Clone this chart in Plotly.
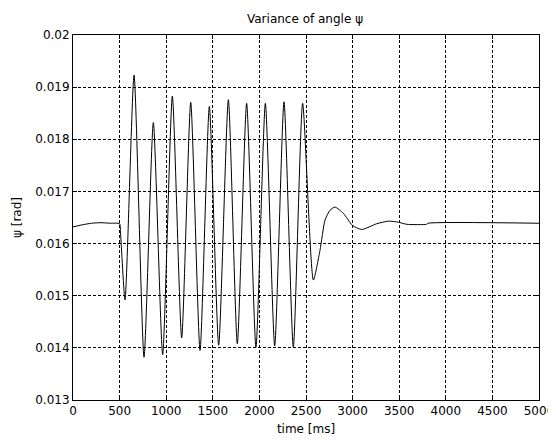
import plotly.graph_objects as go

# time [ms] and psi [rad]
time_ms = [0, 100, 200, 300, 400, 500, 510,
           558, 655, 762, 862, 962, 1066, 1166, 1263, 1363, 1463, 1563, 1667,
           1763, 1863, 1963, 2064, 2164, 2264, 2364, 2464,
           2579, 2650, 2704, 2758, 2811, 2901, 2998, 3097, 3258, 3384, 3491,
           3580, 3795, 3810, 5000]
psi_rad = [0.01632, 0.01636, 0.01639, 0.01640, 0.01639, 0.01638, 0.01620,
           0.01492, 0.01923, 0.01382, 0.01832, 0.01387, 0.01883, 0.01419, 0.01871,
           0.01395, 0.01863, 0.01405, 0.01876, 0.01408, 0.01869, 0.01401, 0.01869,
           0.01404, 0.01872, 0.01401, 0.01869,
           0.01530, 0.01587, 0.01645, 0.01664, 0.01670, 0.01658, 0.01635, 0.01627,
           0.01638, 0.01643, 0.01641, 0.01637, 0.01637, 0.01639, 0.01639]

x_ticks = [0, 500, 1000, 1500, 2000, 2500, 3000, 3500, 4000, 4500, 5000]
y_ticks = [0.013, 0.014, 0.015, 0.016, 0.017, 0.018, 0.019, 0.02]
y_tick_labels = ["0.013", "0.014", "0.015", "0.016", "0.017", "0.018", "0.019", "0.02"]

fig = go.Figure()
fig.add_trace(go.Scatter(x=time_ms, y=psi_rad, mode="lines",
                         line=dict(color="black", width=1, shape="spline", smoothing=0.6),
                         showlegend=False, hoverinfo="skip"))

font = dict(family="DejaVu Sans, sans-serif", size=12, color="black")
axis_common = dict(showline=True, linecolor="black", linewidth=1, mirror="ticks",
                   ticks="inside", ticklen=4, tickcolor="black", automargin=False,
                   showgrid=True, gridcolor="black", gridwidth=1, griddash="3px,2px",
                   zeroline=False, tickfont=font)

# page body adds an 8px margin, so the figure is sized/placed to compensate
fig.update_layout(
    width=548, height=433,
    paper_bgcolor="white", plot_bgcolor="white",
    margin=dict(l=65, r=17, t=27, b=41),
    font=font,
    title=dict(text="Variance of angle ψ", x=0.542, xanchor="center", y=0.976, yanchor="middle",
               font=font, automargin=False),
    xaxis=dict(range=[0, 5000], tickvals=x_ticks, ticktext=[str(v) for v in x_ticks],
               title=dict(text="time [ms]", standoff=7, font=font), **axis_common),
    yaxis=dict(range=[0.013, 0.02], tickvals=y_ticks, ticktext=y_tick_labels,
               title=dict(text="ψ [rad]", standoff=11, font=font), **axis_common),
)

fig.write_html("out.html")
